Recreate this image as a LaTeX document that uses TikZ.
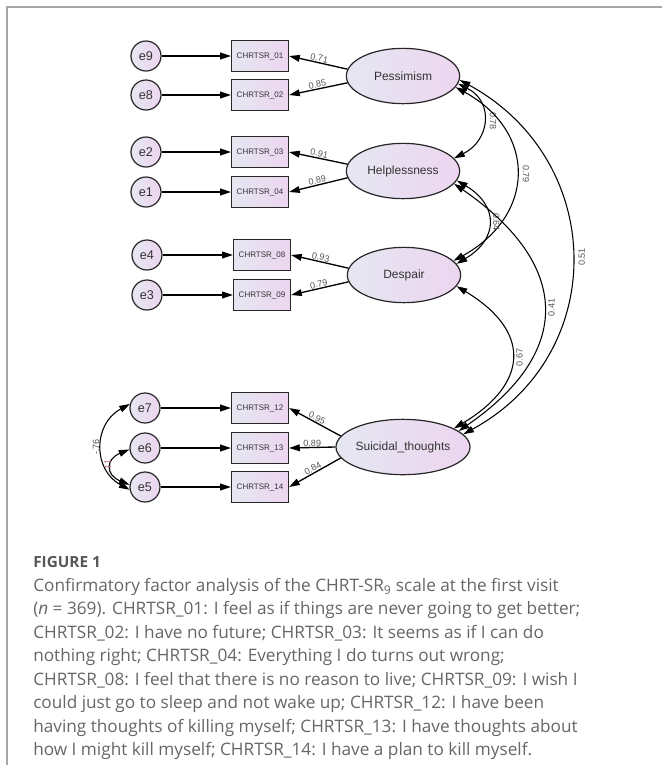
\documentclass[tikz,border=0pt]{standalone}
\usepackage{fontspec}
\setmainfont{Liberation Sans}
\newfontfamily\capfont{Open Sans}
\usetikzlibrary{shapes.geometric,arrows.meta}
\definecolor{nodeleft}{HTML}{E5E7F1}
\definecolor{noderight}{HTML}{EDD5F0}
\definecolor{labgray}{HTML}{555555}
\definecolor{txtgray}{HTML}{333333}
\definecolor{capgray}{HTML}{666666}
\definecolor{framegray}{HTML}{A5A5A5}
\definecolor{covpink}{HTML}{B0708F}
\tikzset{
  shadebox/.style={left color=nodeleft, right color=noderight},
  err/.style={draw=black!85, circle, shadebox, minimum size=22.5pt, inner sep=0pt, line width=0.9pt, font=\fontsize{9.5}{10}\selectfont, text=txtgray},
  item/.style={draw=black!85, rectangle, shadebox, minimum width=42.75pt, minimum height=23.25pt, inner sep=0pt, line width=0.9pt, font=\fontsize{6}{7}\selectfont, text=txtgray},
  factor/.style={draw=black!85, ellipse, shadebox, minimum width=85pt, minimum height=41.5pt, inner sep=0pt, line width=0.9pt, font=\fontsize{9}{10}\selectfont, text=txtgray},
  lbl/.style={font=\fontsize{6.8}{7}\selectfont, text=labgray, inner sep=0.5pt},
  load/.style={->, line width=1pt},
  cov/.style={<->, line width=0.8pt},
}
\begin{document}
\begin{tikzpicture}[x=0.75pt, y=-0.75pt, >={Triangle[length=8pt,width=5pt]}]
\useasboundingbox (0,0) rectangle (662,765);
\draw[framegray, line width=1.1pt] (7,765) -- (7,7) -- (662,7);

% error terms
\node[err] (e9) at (146,56) {e9};
\node[err] (e8) at (146,95) {e8};
\node[err] (e2) at (146,152) {e2};
\node[err] (e1) at (146,192) {e1};
\node[err] (e4) at (147,255) {e4};
\node[err] (e3) at (147,295) {e3};
\node[err] (e7) at (145,408) {e7};
\node[err] (e6) at (145,448) {e6};
\node[err] (e5) at (145,487) {e5};

% observed items
\node[item] (i01) at (260,56) {CHRTSR\_01};
\node[item] (i02) at (260,95) {CHRTSR\_02};
\node[item] (i03) at (260,152) {CHRTSR\_03};
\node[item] (i04) at (260,192) {CHRTSR\_04};
\node[item] (i08) at (262,255) {CHRTSR\_08};
\node[item] (i09) at (262,295) {CHRTSR\_09};
\node[item] (i12) at (260,408) {CHRTSR\_12};
\node[item] (i13) at (260,448) {CHRTSR\_13};
\node[item] (i14) at (260,487) {CHRTSR\_14};

% latent factors
\node[factor] (pess) at (403,76) {Pessimism};
\node[factor] (help) at (403,171) {Helplessness};
\node[factor] (desp) at (404,275) {Despair};
\node[factor] (suic) at (403,447) {Suicidal\_thoughts};

% error paths
\draw[load] (e9) -- (i01);
\draw[load] (e8) -- (i02);
\draw[load] (e2) -- (i03);
\draw[load] (e1) -- (i04);
\draw[load] (e4) -- (i08);
\draw[load] (e3) -- (i09);
\draw[load] (e7) -- (i12);
\draw[load] (e6) -- (i13);
\draw[load] (e5) -- (i14);

% loadings
\draw[load] (pess.173) -- node[lbl, sloped, above] {0.71} (i01.east);
\draw[load] (pess.187) -- node[lbl, sloped, above] {0.85} (i02.east);
\draw[load] (help.173) -- node[lbl, sloped, above] {0.91} (i03.east);
\draw[load] (help.187) -- node[lbl, sloped, above] {0.89} (i04.east);
\draw[load] (desp.173) -- node[lbl, sloped, above] {0.93} (i08.east);
\draw[load] (desp.187) -- node[lbl, sloped, above] {0.79} (i09.east);
\draw[load] (suic.170) -- node[lbl, sloped, above] {0.95} (i12.east);
\draw[load] (suic.west) -- node[lbl, above] {0.89} (i13.east);
\draw[load] (suic.190) -- node[lbl, sloped, above] {0.84} (i14.east);

% factor correlations
\draw[cov] (pess.-8) .. controls +(36,18) and +(36,-18) .. node[lbl, pos=.5, xshift=7.5pt, rotate=-90] {0.78} (help.14);
\draw[cov] (pess.-12) .. controls +(82,45) and +(82,-45) .. node[lbl, pos=.5, xshift=7.5pt, rotate=-90] {0.79} (desp.16);
\draw[cov] (pess.-4) .. controls +(147,80) and +(147,-80) .. node[lbl, pos=.5, xshift=7.5pt, rotate=90] {0.51} (suic.12);
\draw[cov] (help.-10) .. controls +(42,25) and +(42,-25) .. node[lbl, pos=.5, xshift=6pt, rotate=-90] {0.64} (desp.12);
\draw[cov] (help.-14) .. controls +(116,80) and +(116,-80) .. node[lbl, pos=.5, xshift=6pt, rotate=90] {0.41} (suic.16);
\draw[cov] (desp.-12) .. controls +(75,45) and +(75,-45) .. node[lbl, pos=.5, xshift=6pt, rotate=90] {0.67} (suic.20);

% residual covariances
\draw[cov] (e7.165) .. controls +(-37,20) and +(-37,-20) .. node[lbl, pos=.5, xshift=-4.5pt, rotate=90] {-.76} (e5.190);
\draw[cov] (e6.185) .. controls +(-24,10) and +(-24,-10) .. node[lbl, pos=.5, xshift=-3pt, rotate=90, text=covpink] {-.11} (e5.172);

% caption
\node[anchor=west, inner sep=0pt, font=\capfont\bfseries\fontsize{11.5}{13}\selectfont, text=capgray!85!black] (figlab) at (33,562) {FIGURE 1};
\node[anchor=north west, inner sep=0pt, align=left, font=\capfont\fontsize{12.9}{17.6}\selectfont, text=capgray] (caption) at (33,578) {Confirmatory factor analysis of the CHRT-SR\textsubscript{9} scale at the first visit\\
(\textit{n} = 369). CHRTSR\_01: I feel as if things are never going to get better;\\
CHRTSR\_02: I have no future; CHRTSR\_03: It seems as if I can do\\
nothing right; CHRTSR\_04: Everything I do turns out wrong;\\
CHRTSR\_08: I feel that there is no reason to live; CHRTSR\_09: I wish I\\
could just go to sleep and not wake up; CHRTSR\_12: I have been\\
having thoughts of killing myself; CHRTSR\_13: I have thoughts about\\
how I might kill myself; CHRTSR\_14: I have a plan to kill myself.};
\end{tikzpicture}
\end{document}
